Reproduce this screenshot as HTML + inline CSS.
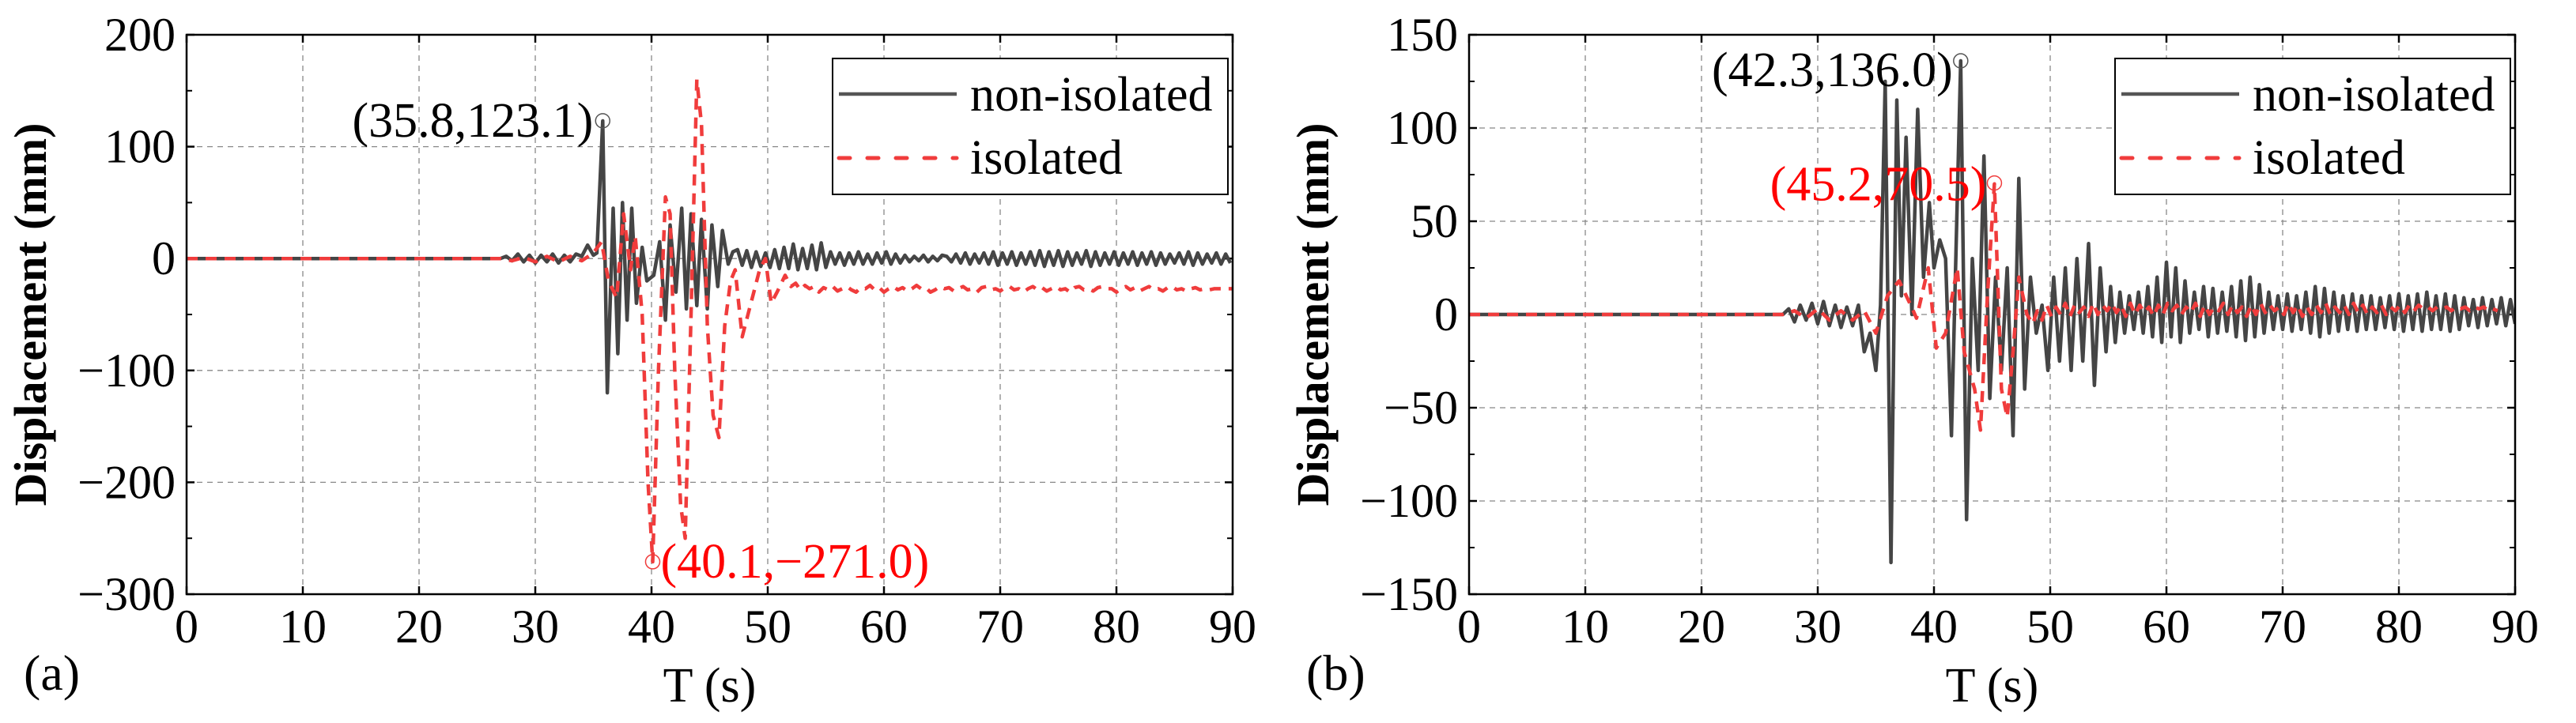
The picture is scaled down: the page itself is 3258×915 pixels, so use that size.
<!DOCTYPE html>
<html><head><meta charset="utf-8"><style>
html,body{margin:0;padding:0;background:#fff;}
svg{display:block;font-family:"Liberation Serif",serif;}
</style></head><body>
<svg id="fig" width="3258" height="915" viewBox="0 0 3258 915" xmlns="http://www.w3.org/2000/svg"></svg>
<script>
// ---------- Panel (a) data ----------
const aNonT = [0,27,27.5,28,28.5,29,29.5,30,30.5,31,31.5,32,32.5,33,33.5,34,34.5,35,35.3,35.8,36.2,36.7,37.1,37.5,37.9,38.3,38.7,39.2,39.6,40.2,40.7,41.2,41.6,42.1,42.6,43,43.4,43.9,44.3,44.8,45.2,45.7,46.1,46.6,47];
const aNonV = [0,0,2,-2,4,-3,3,-4,3,-3,4,-4,3,-3,4,2,12,3,5,123,-120,45,-85,50,-55,45,-40,10,-20,-15,15,-55,30,-30,45,-45,40,-42,35,-45,30,-25,25,-5,6];
const aNonTailStart = 47.4;
const aNonTail = [8,-6,7,-8,6,-7,5,-8,8,-9,10,-9,13,-10,9,-9,12,-10,14,-8,6,-5,5,-6,5,-5,6,-5,4,-5,5,-4,6,-5,4,-4,3,-3,2,-2,3,-3,2,-2,3,2,-3,4,-4,5,-5,4,-4,5,-5,6,-6,5,-5,6,-6,5,-5,6,-6,7,-7,6,-6,7,-7,6,-6,5,-5,7,-7,6,-6,5,-5,6,-6,5,-5,6,-6,5,-5,6,-6,5,-5,4,-4,5,-5,6,-6,5,-5,4,-4,5,-5,4,-4,3];
const aIsoT = [0,27,28,29,30,31,32,33,34,35,35.7,36.3,37,37.6,38.2,38.6,39.2,39.7,40.1,40.6,41.2,41.6,42,42.5,42.9,43.4,43.9,44.3,44.8,45.3,45.8,46.3,46.8,47.2,47.8,48.3,48.8,49.3,49.8,50.3,50.8,51.5,52];
const aIsoV = [0,0,-2,1,-3,2,-3,2,-2,5,15,-20,-35,40,-10,20,-50,-200,-271,-100,55,40,-100,-220,-250,-50,160,120,-60,-140,-160,-60,-20,-10,-70,-50,-30,-10,0,-40,-30,-15,-25];
const aIsoTailStart = 52.4;
const aIsoTail = [-22,-28,-24,-27,-25,-30,-26,-28,-25,-29,-27,-25,-28,-30,-26,-27,-24,-28,-26,-30,-27,-25,-28,-26,-29,-27,-24,-27,-26,-30,-28,-25,-27,-26,-29,-27,-25,-28,-27,-30,-26,-25,-28,-27,-29,-26,-25,-28,-27,-30,-27,-25,-28,-26,-29,-27,-25,-28,-27,-30,-26,-25,-28,-27,-29,-26,-25,-27,-27,-30,-27,-25,-28,-26,-29,-27,-25,-28,-27,-29,-26,-25,-28,-27,-29,-27,-26,-28,-27,-28,-27,-27,-27,-27,-27];
// ---------- Panel (b) data ----------
const bNonT = [0,27,27.5,28,28.5,29,29.5,30,30.5,31,31.5,32,32.5,33,33.5,34,34.5,35,35.4,35.8,36.3,36.8,37.2,37.6,38.1,38.6,39.1,39.6,40,40.5,41,41.5,42.3,42.8,43.3,43.8,44.3,44.8,45.3,45.8,46.3,46.8,47.3,47.8,48.3,48.8,49.3,49.8,50.3,50.8,51.3,51.8,52.3,52.8,53.3,53.8,54.3,54.8,55.2];
const bNonV = [0,0,3,-4,5,-3,6,-5,7,-6,5,-7,4,-6,5,-20,-10,-30,5,125,-133,115,10,95,0,110,20,60,25,40,30,-65,136,-110,30,-30,85,-45,20,-30,25,-65,73,-40,20,-10,5,-30,20,-25,25,-30,30,-25,38,-38,25,-20,15];
const bNonTailStart = 55.6;
const bNonTail = [-15,12,-10,10,-8,12,-10,15,-12,20,-15,28,-12,25,-15,18,-10,12,-8,15,-12,14,-10,12,-9,15,-12,18,-14,20,-12,16,-10,12,-8,10,-8,11,-9,10,-8,12,-10,15,-12,14,-10,12,-9,10,-8,11,-9,10,-8,10,-8,9,-7,10,-8,11,-9,10,-8,11,-9,12,-8,10,-8,11,-9,10,-8,9,-6,8,-7,9,-6,8,-5,9,-6,8,-5,2];
const bIsoT = [0,27,28,29,30,31,32,33,34,35,36,37,38,38.5,39.5,40.2,41,42,42.6,43.5,44,44.6,45.2,45.8,46.3,46.8,47.3,48];
const bIsoV = [0,0,2,-2,3,-3,2,-3,2,-10,10,18,5,-2,25,-18,-10,25,-20,-40,-62,10,70,-40,-55,-20,20,0];
const bIsoTailStart = 48.5;
const bIsoTail = [-5,2,-3,5,-1,4,0,6,-1,5,1,4,-1,6,0,5,2,6,1,5,-1,6,0,5,1,4,-1,5,0,6,2,5,0,4,1,6,-1,5,0,4,2,6,0,5,1,4,-1,5,0,6,1,5,2,4,0,6,1,5,-1,4,0,5,1,6,0,4,1,5,0,6,1,5,0,4,1,5,0,4,2,5,1,5,2,5,3,4,2,4,3,4,2,4,3,4,2,4,3,4,2,3,2];
const TAIL_DT = 0.4;
const xTicks = [0,10,20,30,40,50,60,70,80,90];
const aYTicks = [200,100,0,-100,-200,-300];
const bYTicks = [150,100,50,0,-50,-100,-150];

const NS = "http://www.w3.org/2000/svg";
const svg = document.getElementById('fig');
function el(tag, attrs, parent){const e=document.createElementNS(NS,tag);for(const k in attrs)e.setAttribute(k,attrs[k]);(parent||svg).appendChild(e);return e;}

function series(T,V,tailStart,tail){
  const pts=[];for(let i=0;i<T.length;i++)pts.push([T[i],V[i]]);
  for(let i=0;i<tail.length;i++){const t=tailStart+i*TAIL_DT;if(t<=90)pts.push([t,tail[i]]);}
  return pts;
}

function panel(cfg){
  const g=el('g',{});
  
  
  const L=cfg.left,R=cfg.left+1323,T=44,B=752;
  const ymax=cfg.yticks[0],ymin=cfg.yticks[cfg.yticks.length-1];
  const sx=v=>L+(v-0)/90*(R-L);
  const sy=v=>T+(ymax-v)/(ymax-ymin)*(B-T);
  xTicks.forEach(t=>{ if(t>0&&t<90){const l=el('line',{x1:sx(t),x2:sx(t),y1:T,y2:B,stroke:'#888','stroke-width':1.3,'stroke-dasharray':'7,6'},g);}});
  cfg.yticks.forEach(v=>{ if(v<ymax&&v>ymin){const l=el('line',{x1:L,x2:R,y1:sy(v),y2:sy(v),stroke:'#888','stroke-width':1.3,'stroke-dasharray':'7,6'},g);}});
  xTicks.forEach(t=>{
    el('line',{x1:sx(t),x2:sx(t),y1:B,y2:B-10,stroke:'#000','stroke-width':2.5},g);
    el('line',{x1:sx(t),x2:sx(t),y1:T,y2:T+10,stroke:'#000','stroke-width':2.5},g);
    const tx=el('text',{x:sx(t),y:813,'font-size':60,'text-anchor':'middle'},g);tx.textContent=t;
    
  });
  cfg.yticks.forEach((v,i)=>{
    el('line',{x1:L,x2:L+10,y1:sy(v),y2:sy(v),stroke:'#000','stroke-width':2.5},g);
    el('line',{x1:R,x2:R-10,y1:sy(v),y2:sy(v),stroke:'#000','stroke-width':2.5},g);
    if(i<cfg.yticks.length-1){const m=(v+cfg.yticks[i+1])/2;
      el('line',{x1:L,x2:L+7,y1:sy(m),y2:sy(m),stroke:'#000','stroke-width':2},g);
      el('line',{x1:R,x2:R-7,y1:sy(m),y2:sy(m),stroke:'#000','stroke-width':2},g);}
    const tx=el('text',{x:L-14,y:sy(v)+20,'font-size':60,'text-anchor':'end'},g);tx.textContent=(v<0?'\u2212'+(-v):v);
    
  });
  const path=pts=>pts.map((p,i)=>(i?'L':'M')+sx(p[0]).toFixed(1)+','+sy(p[1]).toFixed(1)).join('');
  const clip=el('clipPath',{id:'clip'+cfg.name},g);el('rect',{x:L,y:T,width:R-L,height:B-T},clip);
  const p1=el('path',{d:path(cfg.non),fill:'none',stroke:'#454545','stroke-width':4.5,'stroke-linejoin':'round','clip-path':'url(#clip'+cfg.name+')'},g);
  
  const p2=el('path',{d:path(cfg.iso),fill:'none',stroke:'#f03c3c','stroke-width':4.5,'stroke-dasharray':'14,10','stroke-linejoin':'round','clip-path':'url(#clip'+cfg.name+')'},g);
  
  const fr=el('rect',{x:L,y:T,width:R-L,height:B-T,fill:'none',stroke:'#000','stroke-width':2.5},g);
  
  cfg.ann.forEach(a=>{
    const c=el('circle',{cx:sx(a.t),cy:sy(a.v),r:9,fill:'none',stroke:a.col==='#000'?'#555':'#f03c3c','stroke-width':1.5},g);
    
    const tx=el('text',{x:sx(a.t)+a.dx,y:sy(a.v)+a.dy,'font-size':62,fill:a.col,'text-anchor':a.anchor},g);
    tx.textContent=a.text;
  });
  const lx=R-506,lg=el('g',{},g);
  
  el('rect',{x:lx,y:74,width:500,height:172,fill:'#fff',stroke:'#000','stroke-width':2},lg);
  const le1=el('line',{x1:lx+8,x2:lx+157,y1:119,y2:119,stroke:'#555','stroke-width':4.5},lg);
  
  const le2=el('line',{x1:lx+8,x2:lx+157,y1:200,y2:200,stroke:'#f03c3c','stroke-width':5,'stroke-dasharray':'14,22','stroke-linecap':'round'},lg);
  
  const t1=el('text',{x:lx+174,y:140,'font-size':62},lg);t1.textContent='non-isolated';
  
  const t2=el('text',{x:lx+174,y:220,'font-size':62},lg);t2.textContent='isolated';
  
  const yl=el('text',{x:0,y:0,'font-size':58,'font-weight':'bold','text-anchor':'middle',transform:`translate(${L-178},398) rotate(-90)`},g);
  yl.textContent='Displacement (mm)';
  const xl=el('text',{x:(L+R)/2,y:888,'font-size':62,'text-anchor':'middle'},g);
  xl.textContent='T (s)';
  const pl=el('text',{x:L-206,y:873,'font-size':64},g);
  pl.textContent=cfg.label;
}

panel({name:'panel-a',left:236,yticks:aYTicks,label:'(a)',
  non:series(aNonT,aNonV,aNonTailStart,aNonTail),iso:series(aIsoT,aIsoV,aIsoTailStart,aIsoTail),
  ann:[{t:35.8,v:123.1,text:'(35.8,123.1)',col:'#000',anchor:'end',dx:-12,dy:20},
       {t:40.1,v:-271.0,text:'(40.1,\u2212271.0)',col:'#ff0000',anchor:'start',dx:10,dy:20}]});
panel({name:'panel-b',left:1858,yticks:bYTicks,label:'(b)',
  non:series(bNonT,bNonV,bNonTailStart,bNonTail),iso:series(bIsoT,bIsoV,bIsoTailStart,bIsoTail),
  ann:[{t:42.3,v:136.0,text:'(42.3,136.0)',col:'#000',anchor:'end',dx:-10,dy:32},
       {t:45.2,v:70.5,text:'(45.2,70.5)',col:'#ff0000',anchor:'end',dx:-10,dy:22}]});
</script>
</body></html>
